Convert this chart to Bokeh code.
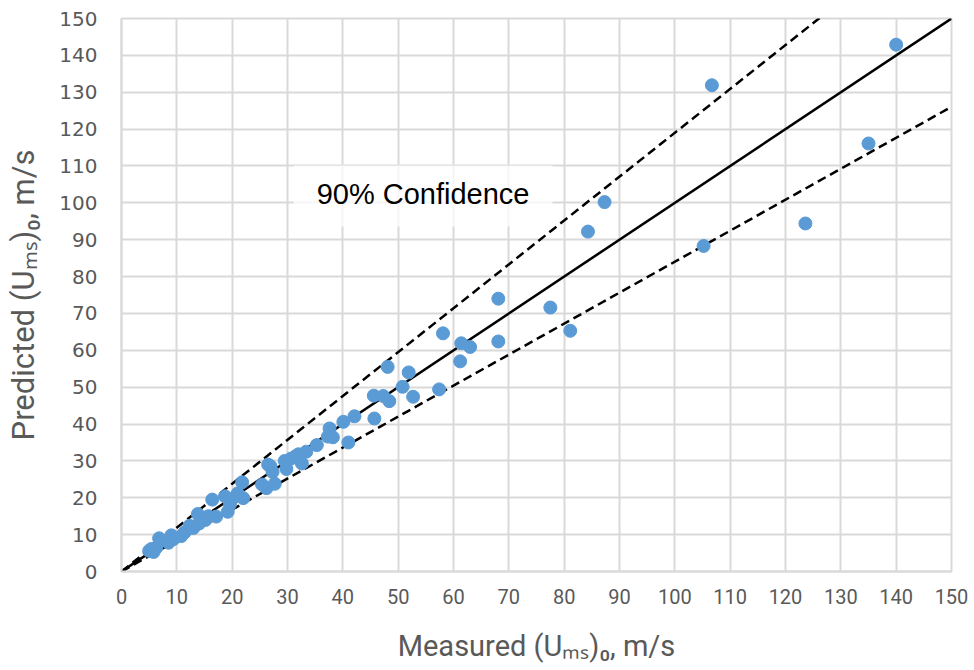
from bokeh.plotting import figure
from bokeh.models import Range1d, FixedTicker, Label, BoxAnnotation, ColumnDataSource
from bokeh.embed import file_html
from bokeh.resources import INLINE

# ---- data ----
measured = [5.0, 5.4, 5.8, 6.3, 6.8, 8.5, 9.0, 9.4, 10.8, 11.4, 12.3, 13.0, 13.8, 14.0,
            15.2, 15.7, 16.4, 17.1, 18.7, 19.2, 19.6, 20.1, 21.0, 21.8, 22.0, 25.4,
            26.2, 26.5, 26.9, 27.3, 27.7, 29.5, 29.8, 30.6, 31.5, 32.0, 32.6, 33.4,
            35.3, 37.3, 37.6, 38.2, 40.1, 41.0, 42.1, 45.6, 45.7, 47.3, 48.1, 48.4,
            50.8, 51.9, 52.7, 57.4, 58.1, 61.2, 61.4, 63.0, 68.1, 68.1, 77.5, 81.1,
            84.3, 87.3, 105.2, 106.7, 123.6, 135.0, 140.0]
predicted = [5.6, 6.1, 5.3, 6.5, 9.0, 7.8, 9.8, 8.8, 9.6, 10.6, 12.4, 11.8, 15.6, 13.0,
             14.0, 15.0, 19.5, 14.9, 20.4, 16.2, 18.2, 19.8, 21.2, 24.2, 19.9, 23.6,
             22.6, 29.0, 28.6, 27.0, 23.8, 30.0, 27.8, 30.6, 31.3, 31.8, 29.3, 32.5,
             34.3, 36.6, 38.8, 36.4, 40.6, 35.0, 42.1, 47.7, 41.5, 47.6, 55.5, 46.2,
             50.1, 54.0, 47.4, 49.4, 64.6, 57.0, 61.9, 60.9, 74.0, 62.4, 71.6, 65.3,
             92.2, 100.2, 88.3, 131.9, 94.4, 116.1, 142.9]

line_x = [0, 150]
line_equal = [0, 150]
conf_factor = 1.19
line_upper = [v * conf_factor for v in line_x]
line_lower = [v / conf_factor for v in line_x]

ticks = list(range(0, 151, 10))
conf_text = "90% Confidence"
x_title = "Measured (U\u2098\u209b)\u2080, m/s"
y_title = "Predicted (U\u2098\u209b)\u2080, m/s"

# ---- figure ----
p = figure(width=974, height=670, x_range=Range1d(0, 150), y_range=Range1d(0, 150),
           output_backend="svg", toolbar_location=None,
           min_border_left=121, min_border_right=23, min_border_top=18, min_border_bottom=99)
p.background_fill_color = "white"
p.border_fill_color = "white"
p.outline_line_color = "#D9D9D9"
p.outline_line_width = 2

grid_col = "#D9D9D9"
for ax in (p.xaxis, p.yaxis):
    ax.ticker = FixedTicker(ticks=ticks)
    ax.axis_line_color = grid_col
    ax.axis_line_width = 2
    ax.major_tick_line_color = None
    ax.minor_tick_line_color = None
    ax.major_tick_out = 0
    ax.major_tick_in = 0
    ax.major_label_text_color = "#595959"
    ax.axis_label_text_color = "#595959"
    ax.axis_label_text_font_style = "normal"

p.xgrid.ticker = FixedTicker(ticks=ticks)
p.ygrid.ticker = FixedTicker(ticks=ticks)
p.grid.grid_line_color = grid_col
p.grid.grid_line_width = 2

p.xaxis.major_label_text_font = "Roboto"
p.xaxis.major_label_text_font_size = "20px"
p.xaxis.major_label_standoff = 17
p.xaxis.axis_label = x_title
p.xaxis.axis_label_text_font = "Roboto"
p.xaxis.axis_label_text_font_size = "29px"
p.xaxis.axis_label_standoff = 22

p.yaxis.major_label_text_font = "DejaVu Sans"
p.yaxis.major_label_text_font_size = "20px"
p.yaxis.major_label_standoff = 24
p.yaxis.axis_label = y_title
p.yaxis.axis_label_text_font = "Roboto"
p.yaxis.axis_label_text_font_size = "31px"
p.yaxis.axis_label_standoff = 14

# reference lines
p.line(line_x, line_upper, line_color="black", line_width=2.5, line_dash="9 5")
p.line(line_x, line_lower, line_color="black", line_width=2.5, line_dash="9 5")
p.line(line_x, line_equal, line_color="black", line_width=2.5)

# points
src = ColumnDataSource(dict(x=measured, y=predicted))
p.scatter("x", "y", source=src, size=13, fill_color="#5B9BD5", line_color="#5B9BD5")

# confidence label with white box
box = BoxAnnotation(left=31.1, right=77.9, bottom=93.6, top=110.1,
                    fill_color="white", fill_alpha=0.75, line_color=None)
p.add_layout(box)
lab = Label(x=54.5, y=102.5, text=conf_text, text_align="center", text_baseline="middle",
            text_font="Liberation Sans", text_font_size="29px", text_color="black")
p.add_layout(lab)

open("out.html", "w").write(file_html(p, INLINE))
